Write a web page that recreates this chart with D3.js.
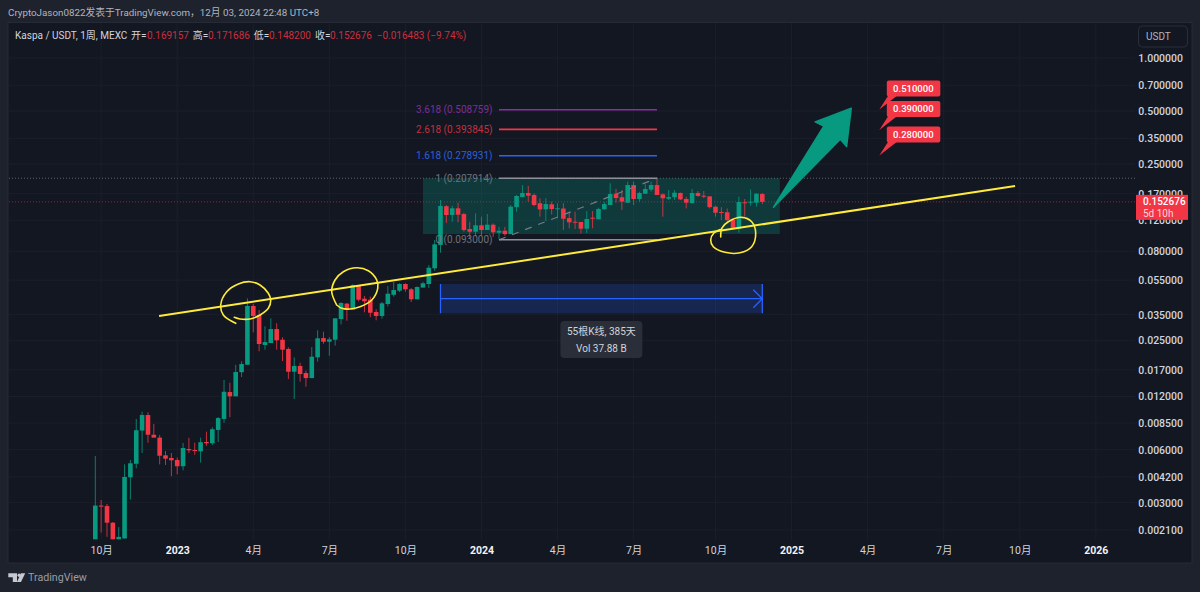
<!DOCTYPE html>
<html>
<head>
<meta charset="utf-8">
<script src="https://cdn.jsdelivr.net/npm/d3@7"></script>
<style>
	html, body { margin: 0; padding: 0; background: #1e222d; }
	svg { display: block; }
	text { font-family: Roboto, "Noto Sans CJK SC", sans-serif; }
</style>
</head>
<body>
<div id="chart"></div>
<script>
// weekly candles, first bar is 2022-09-26
const opens = [.00186,.00289,.00287,.00231,.00186,.00188,.00418,.00499,.0077,.00943,
	.00729,.00702,.00557,.00538,.00524,.00483,.00605,.00597,.00587,.00663,
	.00652,.00776,.00896,.01273,.01204,.0165,.01819,.03919,.03484,.02354,
	.02415,.029,.02522,.02234,.0166,.0179,.01632,.01528,.02004,.02577,
	.02456,.02522,.03305,.0404,.03733,.0509,.0431,.04254,.03622,.03439,
	.04021,.04537,.04784,.05222,.04873,.04276,.04986,.05222,.0641,.08697,
	.1442,.1286,.1404,.1302,.1071,.1034,.1124,.1057,.1133,.102,
	.1047,.1002,.1425,.1626,.1715,.167,.15,.1385,.1479,.1396,
	.14,.1235,.1178,.1174,.1075,.1242,.1216,.1385,.1466,.1699,
	.1622,.151,.1902,.1585,.1699,.179,.1902,.1684,.159,.1622,
	.1715,.1585,.15,.1715,.1655,.1641,.1433,.1338,.1333,.1205,
	.1075,.152,.1509,.151,.169157]
const highs = [.00552,.00311,.00295,.00233,.00218,.00495,.00524,.00896,.00985,.00977,
	.00839,.00727,.00589,.00574,.00541,.00655,.007,.00657,.00702,.00759,
	.00804,.00918,.0149,.01438,.01819,.01902,.04331,.04021,.03718,.03005,
	.03335,.03126,.02602,.02283,.02004,.01867,.01682,.02292,.02853,.028,
	.02611,.03335,.04113,.04076,.05202,.05135,.04466,.04427,.03752,.0413,
	.0509,.05359,.05271,.05271,.04953,.05064,.0538,.06689,.0928,.1565,
	.1466,.1453,.151,.1325,.1178,.1314,.1258,.1302,.1153,.1102,
	.1102,.1466,.167,.1902,.1878,.1708,.16,.16,.1531,.15,
	.15,.1343,.1343,.1174,.1355,.1355,.1414,.1531,.1947,.1806,
	.1783,.1989,.1989,.1744,.1923,.1989,.2095,.1708,.1783,.1783,
	.1725,.1633,.1806,.176,.176,.1641,.1453,.1425,.14,.1232,
	.1633,.1585,.1795,.1708,.171686]
const lows = [.00186,.00203,.00192,.00186,.00186,.00188,.00313,.0047,.00574,.00657,
	.00702,.00495,.00491,.00424,.00435,.00458,.00574,.00561,.00506,.0063,
	.00637,.00663,.00853,.00918,.01204,.01549,.01819,.02778,.02168,.02214,
	.02415,.02214,.0191,.01509,.01162,.01457,.01365,.01528,.01893,.02391,
	.02046,.02334,.03083,.03233,.03733,.04165,.03607,.0338,.0325,.0332,
	.03899,.04427,.04703,.04722,.0413,.04276,.04986,.04953,.06211,.07856,
	.1159,.1178,.1169,.1034,.094,.0978,.0989,.1057,.0967,.094,
	.098,.1002,.1343,.1622,.1531,.1442,.1258,.1189,.1297,.1232,
	.1057,.1081,.1071,.1012,.1015,.1081,.1216,.1378,.1466,.151,
	.1373,.151,.1466,.1531,.1699,.1744,.167,.1258,.1565,.1565,
	.1565,.14,.15,.1633,.16,.14,.1258,.1205,.1169,.1075,
	.102,.1258,.1453,.1434,.1482]
const closes = [.00289,.00285,.00231,.00186,.00192,.0042,.00502,.00773,.00943,.00729,
	.00702,.00554,.00533,.00522,.00483,.00613,.00595,.00589,.00661,.00652,
	.00783,.00906,.01278,.01204,.01654,.01836,.03919,.03439,.02384,.02447,
	.029,.02502,.02214,.0166,.0179,.01611,.01528,.0202,.02568,.02456,
	.02535,.03335,.04076,.03733,.05155,.04254,.04165,.03587,.03439,.04056,
	.04601,.04828,.05222,.04873,.04276,.05019,.05271,.06458,.08767,.1448,
	.1286,.1404,.1291,.1057,.1034,.1124,.1057,.1133,.1026,.1047,
	.1002,.1434,.1649,.1715,.1655,.1466,.1385,.1484,.1391,.1404,
	.1225,.1169,.1169,.1075,.1221,.1225,.1391,.1484,.1692,.1605,
	.1531,.1902,.1585,.1715,.1806,.1902,.167,.16,.1626,.1721,
	.1577,.151,.1715,.1649,.1633,.1425,.1325,.1325,.1205,.1075,
	.1525,.15,.1531,.1699,.152676]

const priceTicks = [1, .7, .5, .35, .25, .17, .12, .08, .055, .035, .025, .017, .012, .0085, .006, .0042, .003, .0021]
const timeTickBars = [1, 14, 27, 40, 53, 66, 79, 92, 106, 119, 132, 145, 158, 171]
const timeTickLabels = ['10月', '2023', '4月', '7月', '10月', '2024', '4月', '7月', '10月', '2025', '4月', '7月', '10月', '2026']

const fibLevels = [3.618, 2.618, 1.618, 1, 0]
const fibPrices = [.508759, .393845, .278931, .207914, .093]
const fibColors = ['#8e2ba8', '#f23645', '#2962ff', '#8d9099', '#8d9099']
const fibTextColors = ['#7b2f95', '#c4303f', '#2f5fd8', '#6f727d', '#6f727d']
const targetPrices = [.51, .39, .28]

const lastPrice = closes[closes.length - 1]

const green = '#089981', red = '#f23645', blue = '#2962ff', yellow = '#ffeb3b'

const width = 1200, height = 592
const plotRight = 1135, plotBottom = 540, plotTop = 23, plotLeft = 9

const x = d3.scaleLinear().domain([0, 114]).range([95.3, 762.3])
const y = d3.scaleLog().domain([1, .0021]).range([58, 530])

const svg = d3.select('#chart').append('svg')
	.attr('width', width)
	.attr('height', height)

svg.append('rect').attr('width', width).attr('height', height).attr('fill', '#1e222d')
svg.append('rect')
	.attr('x', 8).attr('y', 22.5)
	.attr('width', 1184).attr('height', 540.5)
	.attr('fill', '#131722')
	.attr('stroke', '#262a36')

// grid
svg.append('g').selectAll('line').data(priceTicks).join('line')
	.attr('x1', plotLeft).attr('x2', plotRight)
	.attr('y1', d => y(d)).attr('y2', d => y(d))
	.attr('stroke', '#1b1f2b')
svg.append('g').selectAll('line').data(timeTickBars).join('line')
	.attr('x1', d => x(d)).attr('x2', d => x(d))
	.attr('y1', plotTop).attr('y2', plotBottom)
	.attr('stroke', '#1b1f2b')

// time axis
const xAxis = svg.append('g')
	.attr('transform', `translate(0,${plotBottom + 4})`)
	.call(d3.axisBottom(x).tickValues(timeTickBars).tickSize(0).tickFormat((d, i) => timeTickLabels[i]))
xAxis.select('.domain').remove()
xAxis.selectAll('text')
	.attr('font-size', 10.5)
	.attr('fill', (d, i) => timeTickLabels[i].length == 4 ? '#f0f3fa' : '#d1d4dc')
	.attr('font-weight', (d, i) => timeTickLabels[i].length == 4 ? 700 : 400)

// price axis
const yAxis = svg.append('g')
	.attr('transform', `translate(1183,0)`)
	.call(d3.axisLeft(y).tickValues(priceTicks).tickSize(0).tickPadding(0).tickFormat(d3.format('.6f')))
yAxis.select('.domain').remove()
yAxis.selectAll('text')
	.attr('font-size', 10.5)
	.attr('font-weight', 500)
	.attr('fill', '#d1d4dc')

// dotted price lines
svg.append('line')
	.attr('x1', plotLeft).attr('x2', plotRight)
	.attr('y1', y(fibPrices[3])).attr('y2', y(fibPrices[3]))
	.attr('stroke', '#5d606b').attr('stroke-dasharray', '1 2')
svg.append('line')
	.attr('x1', plotLeft).attr('x2', plotRight)
	.attr('y1', y(lastPrice)).attr('y2', y(lastPrice))
	.attr('stroke', red).attr('stroke-opacity', .55).attr('stroke-dasharray', '1 2')

// range box behind the candles
svg.append('rect')
	.attr('x', x(56)).attr('y', y(fibPrices[3]))
	.attr('width', x(117) - x(56))
	.attr('height', y(.1003) - y(fibPrices[3]))
	.attr('fill', green).attr('fill-opacity', .27)

// candles
const candles = opens.map((o, i) => ({ i, o, h: highs[i], l: lows[i], c: closes[i] }))
const candle = svg.append('g').selectAll('g').data(candles).join('g')
	.attr('fill', d => d.c >= d.o ? green : red)
	.attr('stroke', d => d.c >= d.o ? green : red)
candle.append('line')
	.attr('x1', d => x(d.i)).attr('x2', d => x(d.i))
	.attr('y1', d => y(d.h)).attr('y2', d => y(d.l))
	.attr('stroke-opacity', .8)
candle.append('rect')
	.attr('x', d => x(d.i) - 2.3)
	.attr('width', 4.6)
	.attr('y', d => y(Math.max(d.o, d.c)))
	.attr('height', d => Math.max(1, Math.abs(y(d.o) - y(d.c))))
	.attr('stroke', 'none')

// fib extension, bars 69 to 96
const fibStart = 69, fibEnd = 96
svg.append('line')
	.attr('x1', x(fibStart)).attr('x2', x(fibEnd))
	.attr('y1', y(fibPrices[4])).attr('y2', y(fibPrices[3]))
	.attr('stroke', '#787b86').attr('stroke-width', 1.2).attr('stroke-dasharray', '7 7')
svg.append('g').selectAll('line').data(fibPrices).join('line')
	.attr('x1', x(fibStart)).attr('x2', x(fibEnd))
	.attr('y1', d => y(d)).attr('y2', d => y(d))
	.attr('stroke', (d, i) => fibColors[i])
	.attr('stroke-width', 1.6)
svg.append('g').selectAll('text').data(fibPrices).join('text')
	.attr('x', x(fibStart) - 6.5)
	.attr('y', d => y(d))
	.attr('dy', '.35em')
	.attr('text-anchor', 'end')
	.attr('font-size', 10)
	.attr('fill', (d, i) => fibTextColors[i])
	.text((d, i) => `${fibLevels[i]} (${d.toFixed(6)})`)

// yellow trend line
svg.append('line')
	.attr('x1', x(10.9)).attr('y1', y(.03439))
	.attr('x2', x(157.2)).attr('y2', y(.188))
	.attr('stroke', yellow).attr('stroke-width', 2)

// hand drawn circles, offsets in px from an anchor bar and price
const scribble = d3.line().curve(d3.curveCatmullRom.alpha(.5))
const scribbles = [
	{ bar: 26, price: .04237, pts: [[-11.7, 23.3], [-24.1, 15], [-26.7, 5], [-20.7, -8.3], [-9.1, -16], [2.6, -18.3], [12.6, -15], [20.9, -6.7], [23.3, 0], [20.9, 8.3], [12.6, 15], [2.6, 19], [-7.4, 19], [-13.1, 17.3]] },
	{ bar: 44, price: .04828, pts: [[-16, 15], [-21, 1.7], [-17.7, -10], [-9.4, -18.3], [4, -22.3], [15.6, -19.3], [24, -10], [25, -1.7], [19, 10], [7.3, 16.7], [-2.7, 19], [-11, 18.3], [-16, 15]] },
	{ bar: 110, price: .099, pts: [[-18.2, 2], [-17, -7], [-10.6, -13.3], [2.8, -17.7], [12.8, -13.3], [16.8, -1.7], [12.8, 11.7], [1.1, 17.7], [-13.9, 17.3], [-25.6, 11.7], [-28.2, 5], [-25, -2], [-17, -6]] }
]
svg.append('g').selectAll('path').data(scribbles).join('path')
	.attr('transform', d => `translate(${x(d.bar)},${y(d.price)})`)
	.attr('d', d => scribble(d.pts))
	.attr('fill', 'none')
	.attr('stroke', yellow).attr('stroke-width', 1.6).attr('stroke-linecap', 'round')

// big green arrow
const tail = [x(115.9), y(.1422)], tip = [x(129.2), y(.5184)]
const len = Math.hypot(tip[0] - tail[0], tip[1] - tail[1])
const ux = (tip[0] - tail[0]) / len, uy = (tip[1] - tail[1]) / len
const at = (back, side) => [tip[0] - ux * back - uy * side, tip[1] - uy * back + ux * side]
svg.append('polygon')
	.attr('points', [tail, at(31, -10.5), at(33, -20), tip, at(33, 20), at(31, 10.5)].map(p => p.join(',')).join(' '))
	.attr('fill', green)
	.attr('stroke', green)
	.attr('stroke-width', 1.5)
	.attr('stroke-linejoin', 'round')

// red target callouts, tail tip sits on the price
const callout = svg.append('g').selectAll('g').data(targetPrices).join('g')
	.attr('transform', d => `translate(${x(134)},${y(d)})`)
callout.append('path')
	.attr('d', 'M0,0L9,-14L18,-14Z')
	.attr('fill', red)
callout.append('rect')
	.attr('x', 7.5).attr('y', -29)
	.attr('width', 53.5).attr('height', 16)
	.attr('rx', 2)
	.attr('fill', red)
callout.append('text')
	.attr('x', 34).attr('y', -21)
	.attr('dy', '.35em')
	.attr('text-anchor', 'middle')
	.attr('font-size', 9.5)
	.attr('font-weight', 500)
	.attr('fill', '#fff')
	.text(d => d3.format('.6f')(d))

// date range measure, bars 59 to 114
const rangeTop = y(.0522), rangeBottom = y(.03561), rangeMid = (rangeTop + rangeBottom) / 2
svg.append('rect')
	.attr('x', x(59)).attr('y', rangeTop)
	.attr('width', x(114) - x(59)).attr('height', rangeBottom - rangeTop)
	.attr('fill', blue).attr('fill-opacity', .2)
svg.append('g').selectAll('line').data([59, 114]).join('line')
	.attr('x1', d => x(d)).attr('x2', d => x(d))
	.attr('y1', rangeTop).attr('y2', rangeBottom)
	.attr('stroke', blue).attr('stroke-width', 1.3)
svg.append('line')
	.attr('x1', x(59)).attr('x2', x(114))
	.attr('y1', rangeMid).attr('y2', rangeMid)
	.attr('stroke', blue).attr('stroke-width', 1.3)
svg.append('path')
	.attr('d', `M${x(114) - 9},${rangeMid - 9}L${x(114)},${rangeMid}L${x(114) - 9},${rangeMid + 9}`)
	.attr('fill', 'none').attr('stroke', blue).attr('stroke-width', 1.3)

const rangeBoxX = (x(59) + x(114)) / 2
svg.append('rect')
	.attr('x', rangeBoxX - 41).attr('y', 321)
	.attr('width', 82).attr('height', 37)
	.attr('rx', 4)
	.attr('fill', '#2a2e39')
svg.append('g').selectAll('text').data(['55根K线, 385天', 'Vol 37.88 B']).join('text')
	.attr('x', rangeBoxX)
	.attr('y', (d, i) => 331 + i * 17)
	.attr('dy', '.35em')
	.attr('text-anchor', 'middle')
	.attr('font-size', 10)
	.attr('fill', '#d1d4dc')
	.text(d => d)

// last price tag
svg.append('rect')
	.attr('x', 1136).attr('y', y(lastPrice) - 7)
	.attr('width', 52).attr('height', 25)
	.attr('fill', red)
svg.append('text')
	.attr('x', 1143).attr('y', y(lastPrice))
	.attr('dy', '.35em')
	.attr('font-size', 10).attr('font-weight', 500)
	.attr('fill', '#fff')
	.text(lastPrice.toFixed(6))
svg.append('text')
	.attr('x', 1143).attr('y', y(lastPrice) + 12)
	.attr('dy', '.35em')
	.attr('font-size', 10)
	.attr('fill', '#fcd5d9')
	.text('5d 10h')

// currency button
svg.append('rect')
	.attr('x', 1138.5).attr('y', 26)
	.attr('width', 49).attr('height', 21)
	.attr('rx', 4)
	.attr('fill', '#131722')
	.attr('stroke', '#2a2e39')
svg.append('text')
	.attr('x', 1146).attr('y', 36.5)
	.attr('dy', '.35em')
	.attr('font-size', 10)
	.attr('fill', '#b2b5be')
	.text('USDT')

// header texts
svg.append('text')
	.attr('x', 8).attr('y', 13)
	.attr('dy', '.35em')
	.attr('font-size', 9.8)
	.attr('fill', '#b2b5be')
	.text('CryptoJason0822发表于TradingView.com，12月 03, 2024 22:48 UTC+8')

const legendWhite = [['Kaspa / USDT, 1周, MEXC', 15], ['开=', 131], ['高=', 192.7], ['低=', 253.7], ['收=', 315]]
const legendRed = [['0.169157', 147], ['0.171686', 208], ['0.148200', 269], ['0.152676', 330], ['−0.016483 (−9.74%)', 376.7]]
svg.append('g').selectAll('text').data(legendWhite.concat(legendRed)).join('text')
	.attr('x', d => d[1])
	.attr('y', 35)
	.attr('dy', '.35em')
	.attr('font-size', 10)
	.attr('fill', (d, i) => i < legendWhite.length ? '#d1d4dc' : '#c9303e')
	.text(d => d[0])

// footer logo
svg.append('path')
	.attr('d', 'M8.3,573.3H17V582H12.8V577.3H8.3ZM21,573.3H25.2L21,582H16.9Z')
	.attr('fill', '#c5c8d0')
svg.append('circle')
	.attr('cx', 19.2).attr('cy', 575.2).attr('r', 1.7)
	.attr('fill', '#c5c8d0')
svg.append('text')
	.attr('x', 28).attr('y', 577.5)
	.attr('dy', '.35em')
	.attr('font-size', 10.7)
	.attr('fill', '#9a9da6')
	.text('TradingView')
</script>
</body>
</html>
